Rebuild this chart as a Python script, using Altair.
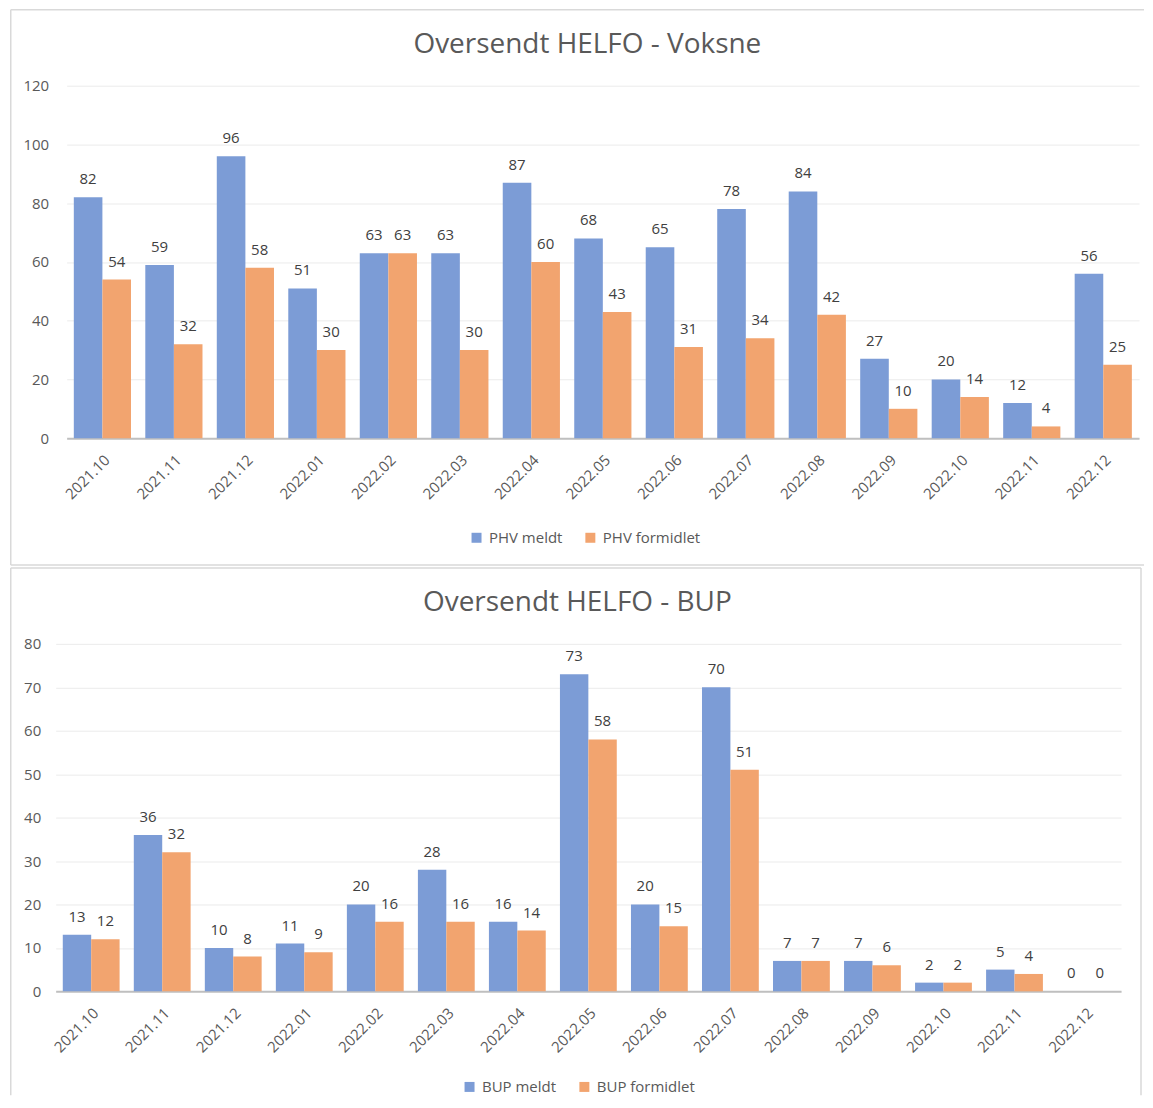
import altair as alt
import pandas as pd

months = ["2021.10", "2021.11", "2021.12", "2022.01", "2022.02", "2022.03",
          "2022.04", "2022.05", "2022.06", "2022.07", "2022.08", "2022.09",
          "2022.10", "2022.11", "2022.12"]

phv_series = ["PHV meldt", "PHV formidlet"]
phv_meldt = [82, 59, 96, 51, 63, 63, 87, 68, 65, 78, 84, 27, 20, 12, 56]
phv_formidlet = [54, 32, 58, 30, 63, 30, 60, 43, 31, 34, 42, 10, 14, 4, 25]

bup_series = ["BUP meldt", "BUP formidlet"]
bup_meldt = [13, 36, 10, 11, 20, 28, 16, 73, 20, 70, 7, 7, 2, 5, 0]
bup_formidlet = [12, 32, 8, 9, 16, 16, 14, 58, 15, 51, 7, 6, 2, 4, 0]

BLUE = "#7C9CD6"
ORANGE = "#F2A46F"
FONT = "Open Sans"
GREY = "#595959"
BOX = "#D9D9D9"


def long_df(names, a, b):
    rows = []
    for m, v1, v2 in zip(months, a, b):
        rows.append({"month": m, "series": names[0], "value": v1})
        rows.append({"month": m, "series": names[1], "value": v2})
    return pd.DataFrame(rows)


def panel(df, names, title, ymax, ystep, width, height, xrange, ylabpad,
          title_dx, legx, legy, box_left, box_top, box_bottom, box_right, right_side):
    n = len(months)
    step = (xrange[1] - xrange[0]) / (n - 0.2 + 0.2)
    barw = step * 0.8 / 2
    x = alt.X("month:N", sort=months,
              scale=alt.Scale(range=xrange, paddingInner=0.2, paddingOuter=0.1),
              axis=alt.Axis(title=None, labelAngle=-45, labelFontSize=15, labelFont=FONT,
                            labelColor=GREY, ticks=False, domainColor="#BFBFBF",
                            domainWidth=2, labelPadding=14, grid=False))
    y = alt.Y("value:Q", scale=alt.Scale(domain=[0, ymax], nice=False),
              axis=alt.Axis(title=None, values=list(range(0, ymax + 1, ystep)),
                            grid=True, gridColor="#EBEBEB", domain=False, ticks=False,
                            labelPadding=ylabpad, labelFontSize=15, labelFont=FONT,
                            labelColor=GREY))
    color = alt.Color("series:N", sort=names,
                      scale=alt.Scale(domain=names, range=[BLUE, ORANGE]),
                      legend=alt.Legend(orient="none", legendX=legx, legendY=legy,
                                        direction="horizontal", title=None,
                                        symbolType="square", symbolSize=100,
                                        symbolStrokeWidth=0, labelFontSize=15,
                                        labelFont=FONT, labelColor=GREY,
                                        labelOffset=5, columnPadding=20))
    base = alt.Chart(df)
    layers = []
    for name, sign in zip(names, (-1, 1)):
        sub = base.transform_filter(alt.datum.series == name)
        layers.append(sub.mark_bar(width=barw, xOffset=sign * barw / 2).encode(
            x=x, y=y, color=color))
        layers.append(sub.mark_text(xOffset=sign * barw / 2, dy=-13, baseline="alphabetic",
                                    fontSize=15, font=FONT, color="#404040").encode(
            x=x, y=y, text="value:Q"))
    dummy = pd.DataFrame({"k": [0]})
    rules = [
        alt.Chart(dummy).mark_rule(color=BOX, strokeWidth=1.5).encode(
            x=alt.value(box_left), y=alt.value(box_top), y2=alt.value(box_bottom)),
        alt.Chart(dummy).mark_rule(color=BOX, strokeWidth=1.5).encode(
            y=alt.value(box_top), x=alt.value(box_left), x2=alt.value(box_right)),
    ]
    if right_side:
        rules.append(alt.Chart(dummy).mark_rule(color=BOX, strokeWidth=1.5).encode(
            x=alt.value(box_right), y=alt.value(box_top), y2=alt.value(box_bottom)))
    else:
        rules.append(alt.Chart(dummy).mark_rule(color=BOX, strokeWidth=1.5).encode(
            y=alt.value(box_bottom), x=alt.value(box_left), x2=alt.value(box_right)))
    return alt.layer(*rules, *layers).properties(
        width=width, height=height,
        title=alt.TitleParams(title, fontSize=28, font=FONT, fontWeight="normal",
                              color=GREY, anchor="middle", frame="group",
                              dx=title_dx, offset=-50))


top = panel(long_df(phv_series, phv_meldt, phv_formidlet), phv_series,
            "Oversendt HELFO - Voksne", 120, 20, 1085, 353, [11, 1085], 7,
            -10, 414, 445, -45, -76, 480, 1090, False)
bottom = panel(long_df(bup_series, bup_meldt, bup_formidlet), bup_series,
               "Oversendt HELFO - BUP", 80, 10, 1067, 348, [0, 1067], 15,
               -11, 407, 436, -45, -76, 452, 1087, True)

chart = alt.vconcat(top, bottom, spacing=1).resolve_scale(
    color="independent", x="independent", y="independent"
).properties(
    padding={"left": 1.75, "top": 0, "right": 0, "bottom": 0},
    background="white",
).configure_view(stroke=None)

chart.save("out.html", embed_options={"renderer": "svg", "actions": False})
